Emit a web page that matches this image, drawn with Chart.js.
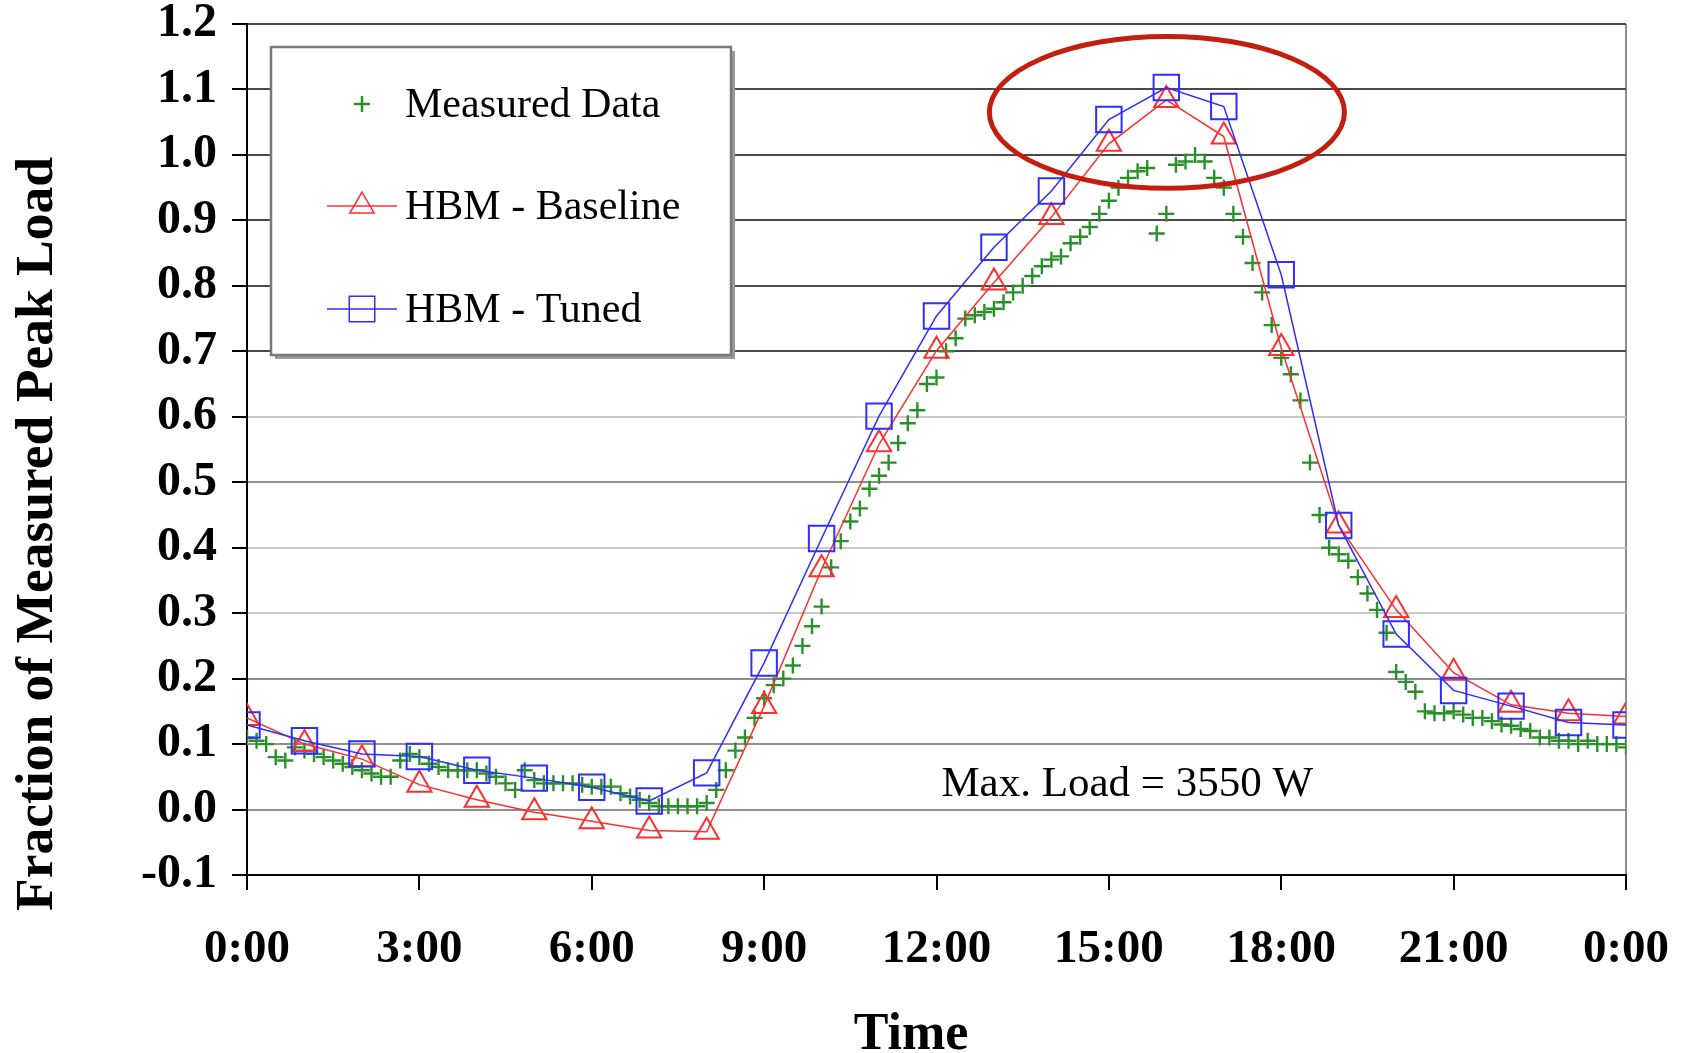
<!DOCTYPE html>
<html><head><meta charset="utf-8">
<script src="https://cdn.jsdelivr.net/npm/chart.js@4.4.0/dist/chart.umd.min.js"></script>
<style>html,body{margin:0;padding:0;background:#fff;}#wrap{width:1683px;height:1053px;}</style>
</head><body><div id="wrap"><canvas id="c" width="1683" height="1053"></canvas></div>
<script>
// ---- DATA ----
const hourlyTimes = [0,1,2,3,4,5,6,7,8,9,10,11,12,13,14,15,16,17,18,19,20,21,22,23,24];
const baselineValues = [0.14,0.10,0.077,0.038,0.015,-0.004,-0.018,-0.032,-0.034,0.158,0.367,0.558,0.701,0.805,0.905,1.017,1.084,1.028,0.705,0.434,0.305,0.209,0.160,0.147,0.142];
const tunedValues = [0.129,0.105,0.085,0.081,0.060,0.048,0.034,0.013,0.056,0.224,0.414,0.601,0.754,0.859,0.945,1.054,1.103,1.074,0.817,0.434,0.268,0.182,0.158,0.133,0.129];
const measuredTimes = [
"0:00","0:10","0:20","0:30","0:40","0:50","1:00","1:10","1:20","1:30","1:40","1:50",
"2:00","2:10","2:20","2:30","2:40","2:50","3:00","3:10","3:20","3:30","3:40","3:50",
"4:00","4:10","4:20","4:30","4:40","4:50","5:00","5:10","5:20","5:30","5:40","5:50",
"6:00","6:10","6:20","6:30","6:40","6:50","7:00","7:10","7:20","7:30","7:40","7:50",
"8:00","8:10","8:20","8:30","8:40","8:50","9:00","9:10","9:20","9:30","9:40","9:50",
"10:00","10:10","10:20","10:30","10:40","10:50","11:00","11:10","11:20","11:30","11:40","11:50",
"12:00","12:10","12:20","12:30","12:40","12:50","13:00","13:10","13:20","13:30","13:40","13:50",
"14:00","14:10","14:20","14:30","14:40","14:50","15:00","15:10","15:20","15:30","15:40","15:50",
"16:00","16:10","16:20","16:30","16:40","16:50","17:00","17:10","17:20","17:30","17:40","17:50",
"18:00","18:10","18:20","18:30","18:40","18:50","19:00","19:10","19:20","19:30","19:40","19:50",
"20:00","20:10","20:20","20:30","20:40","20:50","21:00","21:10","21:20","21:30","21:40","21:50",
"22:00","22:10","22:20","22:30","22:40","22:50","23:00","23:10","23:20","23:30","23:40","23:50",
"24:00"];
const measuredValues = [
0.11,0.105,0.10,0.08,0.075,0.095,0.09,0.085,0.08,0.075,0.07,0.065,
0.06,0.055,0.05,0.05,0.075,0.085,0.08,0.07,0.065,0.06,0.06,0.06,
0.06,0.055,0.05,0.04,0.03,0.06,0.045,0.04,0.04,0.04,0.04,0.038,
0.035,0.035,0.035,0.025,0.02,0.015,0.01,0.005,0.005,0.005,0.005,0.005,
0.01,0.03,0.06,0.09,0.11,0.14,0.17,0.19,0.20,0.22,0.25,0.28,
0.31,0.37,0.41,0.44,0.46,0.49,0.51,0.53,0.56,0.59,0.61,0.65,
0.66,0.70,0.72,0.75,0.755,0.76,0.765,0.775,0.79,0.80,0.815,0.83,
0.84,0.845,0.865,0.875,0.89,0.91,0.93,0.95,0.965,0.975,0.98,0.88,
0.91,0.985,0.99,1.00,0.99,0.965,0.95,0.91,0.875,0.835,0.79,0.74,
0.69,0.665,0.625,0.53,0.45,0.40,0.39,0.38,0.355,0.33,0.305,0.27,
0.21,0.195,0.18,0.15,0.147,0.147,0.15,0.145,0.14,0.14,0.135,0.13,
0.128,0.123,0.12,0.11,0.11,0.105,0.105,0.10,0.105,0.10,0.10,0.10,
0.095];
const xTickLabels = ["0:00","3:00","6:00","9:00","12:00","15:00","18:00","21:00","0:00"];
const seriesNames = ["Measured Data","HBM - Baseline","HBM - Tuned"];
const xAxisTitle = "Time";
const yAxisTitle = "Fraction of Measured Peak Load";
const annotationText = "Max. Load = 3550 W";
const annotationPos = {x: 15.32, y: 0.038};
const ellipseSpec = {cx: 16.01, cy: 1.065, rx: 3.09, ry: 0.116};

// ---- STYLE ----
const GREEN = '#2b8f2b', RED = '#ff2e2e', BLUE = '#2e2eff';
const SERIF = "'Liberation Serif','Times New Roman',serif";
const toHours = t => { const p = t.split(':'); return Number(p[0]) + Number(p[1]) / 60; };

const datasets = [
  { label: seriesNames[0], data: measuredTimes.map((t,i)=>({x: toHours(t), y: measuredValues[i]})),
    showLine:false, pointStyle:'cross', pointRadius:8, pointBorderWidth:2.4, borderColor:GREEN, backgroundColor:GREEN, order:3 },
  { label: seriesNames[1], data: hourlyTimes.map((t,i)=>({x:t, y: baselineValues[i]})),
    showLine:true, pointStyle:'triangle', pointRadius:14, pointBorderWidth:2, borderWidth:1.5,
    borderColor:RED, pointBorderColor:RED, backgroundColor:'rgba(0,0,0,0)', pointBackgroundColor:'rgba(0,0,0,0)', tension:0, order:2 },
  { label: seriesNames[2], data: hourlyTimes.map((t,i)=>({x:t, y: tunedValues[i]})),
    showLine:true, pointStyle:'rect', pointRadius:18, pointBorderWidth:2, borderWidth:1.5,
    borderColor:BLUE, pointBorderColor:BLUE, backgroundColor:'rgba(0,0,0,0)', pointBackgroundColor:'rgba(0,0,0,0)', tension:0, order:1 }
];

const overlay = {
  id: 'overlay',
  afterDraw(chart) {
    const ctx = chart.ctx, xs = chart.scales.x, ys = chart.scales.y;
    ctx.save();
    // axis titles
    ctx.fillStyle = '#000';
    ctx.textAlign = 'center'; ctx.textBaseline = 'middle';
    ctx.font = "bold 52px " + SERIF;
    ctx.fillText(xAxisTitle, 911, 1036);
    ctx.save();
    ctx.translate(38, 534); ctx.rotate(-Math.PI / 2);
    ctx.font = "bold 53.5px " + SERIF;
    ctx.fillText(yAxisTitle, 0, 0);
    ctx.restore();
    // annotation text
    ctx.font = "43px " + SERIF;
    ctx.fillText(annotationText, xs.getPixelForValue(annotationPos.x), ys.getPixelForValue(annotationPos.y));
    // legend box
    const L = 271, T = 47, R = 731, B = 355;
    ctx.fillStyle = '#9a9a9a';
    ctx.fillRect(L + 4, T + 4, R - L, B - T);
    ctx.fillStyle = '#fff';
    ctx.fillRect(L, T, R - L, B - T);
    ctx.strokeStyle = '#7a7a7a'; ctx.lineWidth = 2.5;
    ctx.strokeRect(L, T, R - L, B - T);
    const rows = [104, 206, 309];
    const mx = 362, tx = 405;
    ctx.font = "42px " + SERIF; ctx.textAlign = 'left';
    datasets.forEach((ds, i) => {
      const y = rows[i];
      if (ds.showLine) {
        ctx.strokeStyle = ds.borderColor; ctx.lineWidth = ds.borderWidth;
        ctx.beginPath(); ctx.moveTo(327, y); ctx.lineTo(397, y); ctx.stroke();
      }
      ctx.strokeStyle = ds.borderColor; ctx.fillStyle = 'rgba(0,0,0,0)';
      Chart.helpers.drawPoint(ctx, {pointStyle: ds.pointStyle, radius: ds.pointRadius, borderWidth: ds.pointBorderWidth, rotation: 0}, mx, y);
      ctx.fillStyle = '#000';
      ctx.fillText(ds.label, tx, y + 2);
    });
    // ellipse
    const cx = xs.getPixelForValue(ellipseSpec.cx), cy = ys.getPixelForValue(ellipseSpec.cy);
    const rx = Math.abs(xs.getPixelForValue(ellipseSpec.cx + ellipseSpec.rx) - cx);
    const ry = Math.abs(ys.getPixelForValue(ellipseSpec.cy + ellipseSpec.ry) - cy);
    ctx.strokeStyle = '#c41e0e'; ctx.lineWidth = 5;
    ctx.beginPath(); ctx.ellipse(cx, cy, rx, ry, 0, 0, Math.PI * 2); ctx.stroke();
    ctx.restore();
  }
};

function gridColorY(c) {
  const v = c.tick ? c.tick.value : 0;
  if (v > 0.65) return '#4a4a4a';
  if (Math.abs(v - 0.6) < 0.01 || Math.abs(v - 0.4) < 0.01 || Math.abs(v - 0.3) < 0.01) return '#c9c9c9';
  return '#8e8e8e';
}

new Chart(document.getElementById('c').getContext('2d'), {
  type: 'scatter',
  data: { datasets },
  options: {
    responsive: false, animation: false, devicePixelRatio: 1,
    layout: { padding: { top: 24, right: 57, left: 0, bottom: 0 } },
    plugins: { legend: { display: false }, tooltip: { enabled: false } },
    scales: {
      x: {
        type: 'linear', min: 0, max: 24,
        afterFit: s => { s.height = 178; s.paddingLeft = 0; s.paddingRight = 0; },
        ticks: { stepSize: 3, autoSkip: false, maxRotation: 0, padding: 32, color: '#000',
          callback: v => xTickLabels[Math.round(v / 3)],
          font: { family: SERIF, weight: 'bold', size: 47, lineHeight: 1.2 } },
        grid: { drawOnChartArea: true, lineWidth: 2, tickLength: 15, tickColor: '#000', tickWidth: 2,
          color: c => (c.tick && c.tick.value === 24) ? '#8e8e8e' : 'rgba(0,0,0,0)' },
        border: { color: '#000', width: 2 },
        title: { display: false }
      },
      y: {
        min: -0.1, max: 1.2,
        afterFit: s => { s.width = 247; s.paddingTop = 0; s.paddingBottom = 0; },
        ticks: { stepSize: 0.1, padding: 15, color: '#000',
          callback: v => (Math.abs(v) < 1e-9 ? 0 : v).toFixed(1),
          font: { family: SERIF, weight: 'bold', size: 48 } },
        grid: { lineWidth: 2, tickLength: 15, tickColor: '#000', tickWidth: 2, color: gridColorY },
        border: { color: '#000', width: 2 },
        title: { display: false }
      }
    }
  },
  plugins: [overlay]
});
</script></body></html>
